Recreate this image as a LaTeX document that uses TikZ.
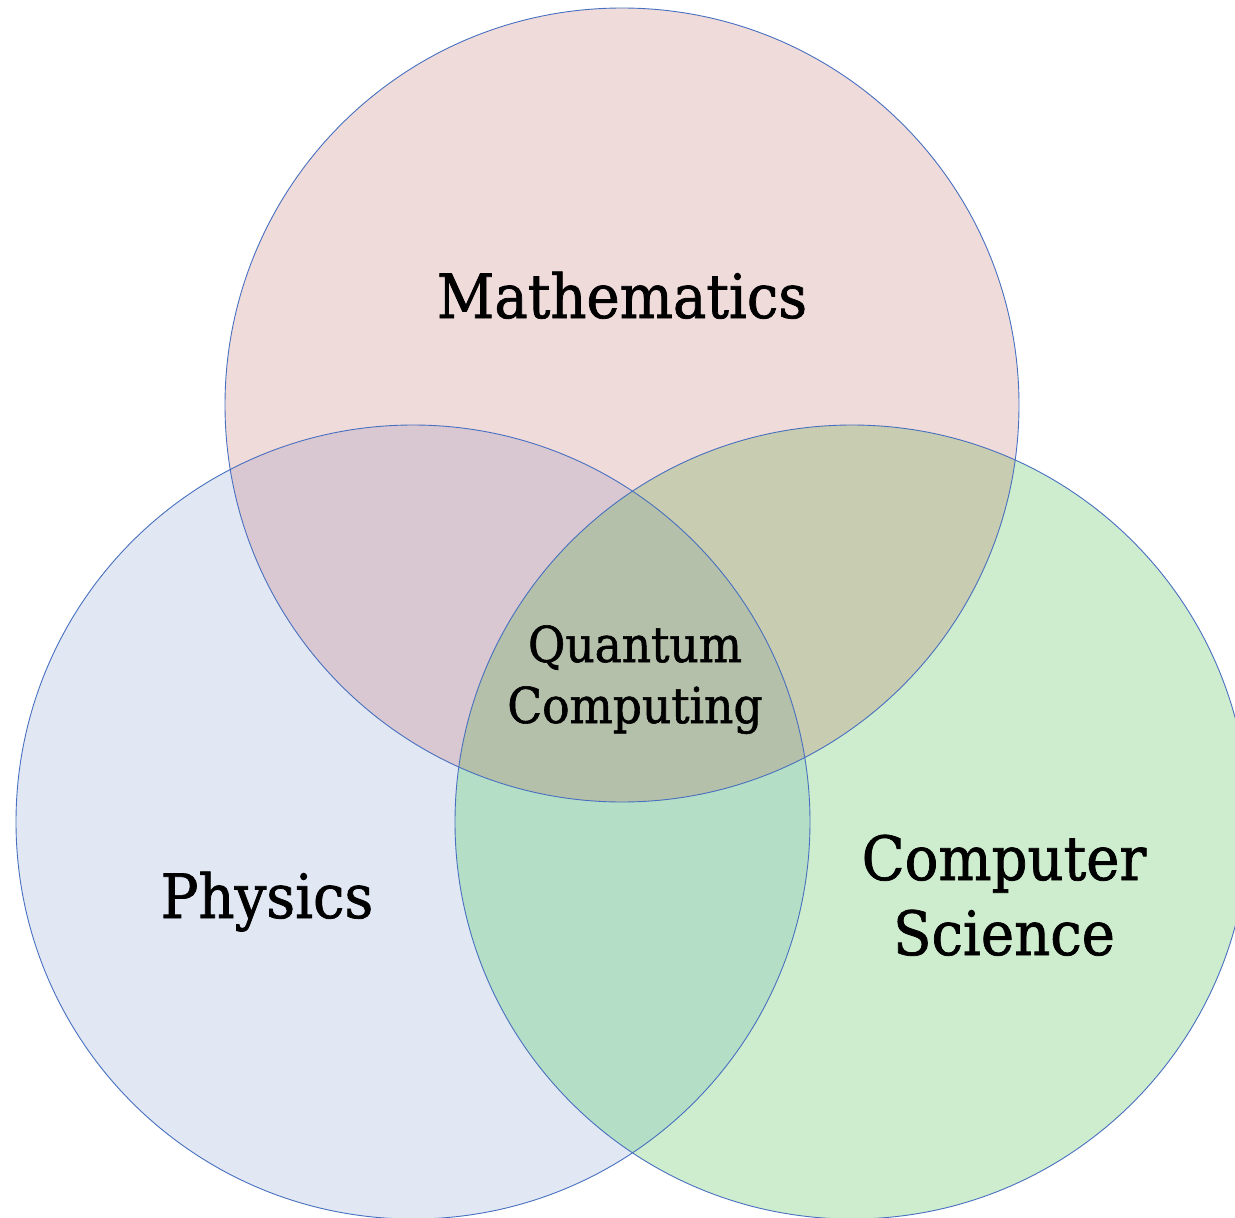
\documentclass[tikz,border=0pt]{standalone}
\usepackage{fontspec}
\setmainfont[FakeStretch=0.92,FakeBold=1.2]{DejaVu Serif}
\definecolor{mathc}{RGB}{240,219,219}
\definecolor{physc}{RGB}{225,232,244}
\definecolor{csc}{RGB}{206,236,206}
\definecolor{mpc}{RGB}{217,200,210}
\definecolor{mcc}{RGB}{200,204,176}
\definecolor{pcc}{RGB}{180,222,198}
\definecolor{allc}{RGB}{180,192,170}
\definecolor{edgec}{RGB}{72,112,192}
\tikzset{
  ring/.style={draw=edgec, line width=0.9pt},
  biglabel/.style={inner sep=0pt, align=center, font=\fontsize{61}{75}\selectfont},
  midlabel/.style={inner sep=0pt, align=center, font=\fontsize{49.5}{61}\selectfont}
}
\begin{document}
\begin{tikzpicture}[x=1pt,y=-1pt]
\useasboundingbox (0,0) rectangle (1235,1218);
\clip (0,0) rectangle (1235,1218);
\def\R{397}
\coordinate (M) at (622,405);
\coordinate (P) at (413,822);
\coordinate (C) at (852,822);
% base fills
\fill[physc] (P) circle (\R);
\fill[csc] (C) circle (\R);
\fill[mathc] (M) circle (\R);
% pairwise overlaps
\begin{scope}
  \clip (M) circle (\R);
  \fill[mpc] (P) circle (\R);
\end{scope}
\begin{scope}
  \clip (M) circle (\R);
  \fill[mcc] (C) circle (\R);
\end{scope}
\begin{scope}
  \clip (P) circle (\R);
  \fill[pcc] (C) circle (\R);
\end{scope}
\begin{scope}
  \clip (P) circle (\R);
  \clip (C) circle (\R);
  \fill[allc] (M) circle (\R);
\end{scope}
% outlines
\draw[ring] (M) circle (\R);
\draw[ring] (P) circle (\R);
\draw[ring] (C) circle (\R);
% labels
\node[biglabel, anchor=base] (math) at (622,318) {Mathematics};
\node[biglabel, anchor=base] (phys) at (267,918) {Physics};
\node[biglabel, anchor=base] (cs) at (1004,955) {Computer\\Science};
\node[midlabel, anchor=base] (qc) at (635,723) {Quantum\\Computing};
\end{tikzpicture}
\end{document}
